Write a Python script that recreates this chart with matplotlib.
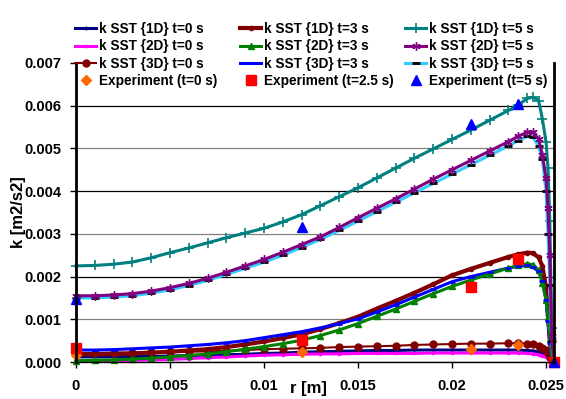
import matplotlib
matplotlib.use("Agg")
import matplotlib.pyplot as plt
import numpy as np

plt.rcParams['font.family'] = ['Liberation Sans', 'DejaVu Sans']
plt.rcParams['font.weight'] = 'bold'
plt.rcParams['axes.labelweight'] = 'bold'
plt.rcParams['font.size'] = 10.5

# radial positions of the CFD output (m)
r = [0.0, 0.001, 0.002, 0.003, 0.004, 0.005, 0.006, 0.007, 0.008, 0.009,
     0.010, 0.011, 0.012, 0.013, 0.014, 0.015, 0.016, 0.017, 0.018, 0.019,
     0.020, 0.021, 0.022, 0.023, 0.0235, 0.024, 0.0243, 0.0246, 0.0248,
     0.0250, 0.0251, 0.0252, 0.0253, 0.0254]

# turbulent kinetic energy, in units of 1e-3 m2/s2
k_1d_t0 = [0.12, 0.12, 0.12, 0.13, 0.13, 0.14, 0.15, 0.16, 0.17, 0.18,
           0.20, 0.21, 0.23, 0.24, 0.25, 0.26, 0.27, 0.27, 0.28, 0.28,
           0.28, 0.28, 0.28, 0.28, 0.28, 0.27, 0.26, 0.24, 0.21,
           0.16, 0.12, 0.07, 0.02, 0.0]
k_1d_t3 = [0.18, 0.18, 0.19, 0.20, 0.22, 0.24, 0.27, 0.30, 0.35, 0.41,
           0.48, 0.56, 0.65, 0.77, 0.91, 1.06, 1.25, 1.43, 1.62, 1.82,
           2.03, 2.18, 2.32, 2.46, 2.52, 2.56, 2.55, 2.45, 2.25,
           1.75, 1.10, 0.50, 0.12, 0.0]
k_1d_t5 = [2.25, 2.26, 2.29, 2.34, 2.44, 2.56, 2.67, 2.79, 2.91, 3.02,
           3.13, 3.28, 3.45, 3.66, 3.87, 4.08, 4.31, 4.54, 4.77, 4.99,
           5.21, 5.43, 5.66, 5.89, 6.01, 6.17, 6.20, 6.12, 5.70,
           5.15, 4.55, 3.30, 0.80, 0.0]
k_2d_t0 = [0.02, 0.02, 0.03, 0.04, 0.05, 0.06, 0.08, 0.10, 0.12, 0.14,
           0.16, 0.17, 0.18, 0.19, 0.19, 0.20, 0.20, 0.20, 0.20, 0.21,
           0.21, 0.21, 0.21, 0.21, 0.21, 0.20, 0.19, 0.17, 0.15,
           0.11, 0.08, 0.05, 0.02, 0.0]
k_2d_t3 = [0.03, 0.04, 0.05, 0.07, 0.09, 0.12, 0.15, 0.19, 0.24, 0.30,
           0.36, 0.43, 0.51, 0.62, 0.75, 0.90, 1.07, 1.24, 1.42, 1.60,
           1.77, 1.92, 2.06, 2.20, 2.26, 2.30, 2.28, 2.15, 1.85,
           1.45, 1.05, 0.55, 0.12, 0.0]
k_2d_t5 = [1.55, 1.55, 1.57, 1.60, 1.66, 1.74, 1.84, 1.96, 2.10, 2.25,
           2.40, 2.57, 2.75, 2.93, 3.15, 3.38, 3.60, 3.82, 4.05, 4.28,
           4.50, 4.72, 4.94, 5.16, 5.28, 5.38, 5.38, 5.22, 4.85,
           4.30, 3.60, 2.50, 0.60, 0.0]
k_3d_t0 = [0.21, 0.21, 0.22, 0.22, 0.23, 0.23, 0.24, 0.25, 0.26, 0.28,
           0.30, 0.31, 0.32, 0.33, 0.35, 0.36, 0.37, 0.38, 0.40, 0.41,
           0.42, 0.43, 0.43, 0.44, 0.44, 0.43, 0.42, 0.38, 0.33,
           0.27, 0.20, 0.12, 0.08, 0.0]
k_3d_t3 = [0.28, 0.28, 0.29, 0.31, 0.33, 0.35, 0.38, 0.41, 0.45, 0.50,
           0.57, 0.64, 0.71, 0.80, 0.90, 1.01, 1.17, 1.34, 1.52, 1.70,
           1.88, 2.00, 2.10, 2.20, 2.24, 2.26, 2.22, 2.12, 1.90,
           1.45, 0.95, 0.45, 0.10, 0.0]
k_3d_t5 = [1.50, 1.50, 1.52, 1.55, 1.61, 1.69, 1.79, 1.91, 2.05, 2.19,
           2.34, 2.50, 2.68, 2.87, 3.08, 3.30, 3.52, 3.74, 3.96, 4.18,
           4.40, 4.62, 4.84, 5.06, 5.18, 5.28, 5.26, 5.05, 4.75,
           4.00, 3.00, 1.80, 0.50, 0.0]

# measurements
r_exp = [0.0, 0.012, 0.021, 0.0235, 0.0254]
k_exp_t0 = [0.16, 0.23, 0.30, 0.40, 0.0]
k_exp_t25 = [0.33, 0.52, 1.76, 2.40, 0.0]
k_exp_t5 = [1.48, 3.16, 5.58, 6.03, 0.0]

r = np.array(r)
scale = 1e-3

fig = plt.figure(figsize=(5.66, 3.99), dpi=100)
ax = fig.add_axes([76 / 566, 1 - 362 / 399, 477.6 / 566, 299 / 399])

lw = 2.2
h = {}
h['1d0'], = ax.plot(r, np.array(k_1d_t0) * scale, color='#000080', lw=lw,
                    marker='+', ms=3, label='k SST {1D} t=0 s')
h['2d0'], = ax.plot(r, np.array(k_2d_t0) * scale, color='#FF00FF', lw=lw,
                    marker='s', ms=2, label='k SST {2D} t=0 s')
h['3d0'], = ax.plot(r, np.array(k_3d_t0) * scale, color='#800000', lw=1.5,
                    marker='o', ms=5, label='k SST {3D} t=0 s')
h['1d3'], = ax.plot(r, np.array(k_1d_t3) * scale, color='#800000', lw=3,
                    marker='o', ms=3, label='k SST {1D} t=3 s')
h['3d3'], = ax.plot(r, np.array(k_3d_t3) * scale, color='#0000FF', lw=lw,
                    label='k SST {3D} t=3 s')
h['2d3'], = ax.plot(r, np.array(k_2d_t3) * scale, color='#008000', lw=lw,
                    marker='^', ms=5, label='k SST {2D} t=3 s')
ax.plot(r, np.array(k_3d_t3) * scale, ls='none', marker='_', ms=5,
        mew=2, color='#0000FF')
h['1d5'], = ax.plot(r, np.array(k_1d_t5) * scale, color='#008080', lw=lw,
                    marker='+', ms=7, mew=1.2, label='k SST {1D} t=5 s')
h['3d5'], = ax.plot(r, np.array(k_3d_t5) * scale, color='#33CCFF', lw=lw,
                    marker='_', ms=6, mew=2, mec='black',
                    label='k SST {3D} t=5 s')
h['2d5'], = ax.plot(r, np.array(k_2d_t5) * scale, color='#800080', lw=lw,
                    marker=(6, 2, 0), ms=6, mew=1, label='k SST {2D} t=5 s')
h['e0'], = ax.plot(r_exp, np.array(k_exp_t0) * scale, ls='none',
                   marker='D', ms=5, color='#FF6600',
                   label='Experiment (t=0 s)')
h['e25'], = ax.plot(r_exp, np.array(k_exp_t25) * scale, ls='none',
                    marker='s', ms=6.5, color='#FF0000',
                    label='Experiment (t=2.5 s)')
h['e5'], = ax.plot(r_exp, np.array(k_exp_t5) * scale, ls='none',
                   marker='^', ms=7, color='#0000FF',
                   label='Experiment (t=5 s)')
for line in ax.get_lines():
    line.set_clip_on(False)

ax.set_xlim(0, 0.0254)
ax.set_ylim(0, 0.007)
ax.set_xticks([0, 0.005, 0.01, 0.015, 0.02, 0.025])
ax.set_xticklabels(['0', '0.005', '0.01', '0.015', '0.02', '0.025'])
ax.set_yticks(np.arange(0, 0.0071, 0.001))
ax.set_yticklabels(['%.3f' % v for v in np.arange(0, 0.0071, 0.001)])
ax.tick_params(direction='out', length=4, width=1, pad=6.5)
ax.tick_params(axis='x', pad=8)

ax.yaxis.grid(True, color='black', lw=0.9)
gridlines = ax.get_ygridlines()
for i, gl in enumerate(gridlines):
    if i % 2 == 1:
        gl.set_color('#808080')
gridlines[-1].set_visible(False)
ax.set_axisbelow(True)

ax.spines['top'].set_visible(False)
ax.spines['left'].set_linewidth(2)
ax.spines['right'].set_linewidth(2)
ax.spines['bottom'].set_linewidth(1)

ax.set_ylabel('k [m2/s2]', fontsize=12)
ax.yaxis.set_label_coords(-0.104, 0.5)
ax.set_xlabel('r [m]', fontsize=12)
ax.xaxis.set_label_coords((308 - 76) / 477.6, -0.064)

# one legend per column so the three columns are evenly spaced
columns = [['1d0', '2d0', '3d0', 'e0'],
           ['1d3', '2d3', '3d3', 'e25'],
           ['1d5', '2d5', '3d5', 'e5']]
col_x = [75, 240, 405]
for keys, x0 in zip(columns, col_x):
    leg = fig.legend([h[k] for k in keys], [h[k].get_label() for k in keys],
                     loc='upper left', bbox_to_anchor=(x0 / 566, 1 - 22 / 399),
                     frameon=False, borderpad=0, borderaxespad=0,
                     handlelength=1.55, handletextpad=0.2,
                     labelspacing=0.25, prop={'weight': 'bold', 'size': 9.8})
    leg.set_zorder(10)

fig.savefig('out.png', dpi=100)
